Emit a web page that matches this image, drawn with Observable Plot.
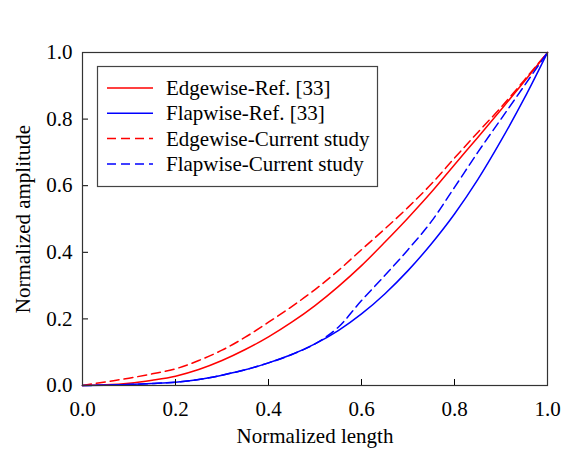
<!DOCTYPE html>
<html>
<head>
<meta charset="utf-8">
<script src="https://cdn.jsdelivr.net/npm/d3@7"></script>
<script src="https://cdn.jsdelivr.net/npm/@observablehq/plot@0.6"></script>
<style>
  html, body { margin: 0; padding: 0; background: #fff; }
  #wrap { position: relative; width: 567px; height: 457px; }
  #legend { position: absolute; left: 0; top: 0; pointer-events: none; }
</style>
</head>
<body>
<div id="wrap"></div>
<script>
// ---- data ----
const xs = [0, 0.05, 0.1, 0.15, 0.2, 0.25, 0.3, 0.35, 0.4, 0.45, 0.5, 0.55, 0.6, 0.65, 0.7, 0.75, 0.8, 0.85, 0.9, 0.95, 1];
const edgeRef   = [0, 0.002, 0.007, 0.016, 0.028, 0.048, 0.075, 0.108, 0.146, 0.19, 0.24, 0.297, 0.36, 0.43, 0.503, 0.58, 0.663, 0.745, 0.828, 0.913, 1];
const flapRef   = [0, 0.001, 0.003, 0.006, 0.010, 0.018, 0.031, 0.047, 0.068, 0.093, 0.125, 0.165, 0.215, 0.275, 0.345, 0.425, 0.515, 0.618, 0.735, 0.862, 1];
const edgeCur   = [0, 0.011, 0.022, 0.035, 0.05, 0.075, 0.106, 0.145, 0.19, 0.237, 0.288, 0.345, 0.408, 0.47, 0.535, 0.605, 0.683, 0.76, 0.835, 0.917, 1];
const flapCur   = [0, 0.001, 0.003, 0.006, 0.010, 0.018, 0.031, 0.047, 0.068, 0.093, 0.125, 0.175, 0.255, 0.33, 0.408, 0.492, 0.595, 0.7, 0.8, 0.9, 1];

const seriesNames = ["Edgewise-Ref. [33]", "Flapwise-Ref. [33]", "Edgewise-Current study", "Flapwise-Current study"];
const seriesValues = [edgeRef, flapRef, edgeCur, flapCur];
const seriesColors = ["#ff0000", "#0000ff", "#ff0000", "#0000ff"];
const seriesDash = [null, null, "9,5", "9,5"];

const xTicks = [0, 0.2, 0.4, 0.6, 0.8, 1.0];
const yTicks = [0, 0.2, 0.4, 0.6, 0.8, 1.0];
const xTitle = "Normalized length";
const yTitle = "Normalized amplitude";

const font = "'Liberation Serif', 'Times New Roman', serif";
const fs = 21;

const lineMarks = seriesValues.map((vals, k) =>
  Plot.line(xs.map((x, i) => ({x, y: vals[i]})), {
    x: "x", y: "y", stroke: seriesColors[k], strokeWidth: 1.5,
    strokeDasharray: seriesDash[k] ?? undefined, curve: "monotone-x"
  })
);

const chart = Plot.plot({
  width: 567,
  height: 457,
  marginTop: 52,
  marginRight: 20,
  marginBottom: 72,
  marginLeft: 82,
  style: {fontFamily: font, fontSize: fs + "px", background: "transparent", color: "#000"},
  x: {domain: [0, 1]},
  y: {domain: [0, 1]},
  marks: [
    ...lineMarks,
    Plot.axisX({ticks: xTicks, tickFormat: d3.format(".1f"), tickSize: -6, tickPadding: 22, label: null, fontSize: fs}),
    Plot.axisY({ticks: yTicks, tickFormat: d3.format(".1f"), tickSize: -6, tickPadding: 16, label: null, fontSize: fs}),
    Plot.frame({stroke: "#333", strokeWidth: 1.2}),
    Plot.text([xTitle], {frameAnchor: "bottom", textAnchor: "middle", dy: 57, text: d => d, fontSize: fs, fill: "#000"}),
    Plot.text([yTitle], {frameAnchor: "left", textAnchor: "middle", rotate: -90, dx: -59, dy: 0, text: d => d, fontSize: fs, fill: "#000"})
  ]
});

const wrap = document.getElementById("wrap");
wrap.appendChild(chart);

// ---- legend (inside plot area) ----
const lg = d3.create("svg").attr("id", "legend").attr("width", 567).attr("height", 457);
const box = {x: 97, y: 66, w: 280, h: 120};
lg.append("rect").attr("x", box.x + 0.5).attr("y", box.y + 0.5).attr("width", box.w).attr("height", box.h)
  .attr("fill", "#fff").attr("stroke", "#444").attr("stroke-width", 1.2);
seriesNames.forEach((name, k) => {
  const cy = box.y + 22 + k * 25.3;
  lg.append("line").attr("x1", box.x + 10).attr("x2", box.x + 56).attr("y1", cy).attr("y2", cy)
    .attr("stroke", seriesColors[k]).attr("stroke-width", 1.5)
    .attr("stroke-dasharray", seriesDash[k]);
  lg.append("text").attr("x", box.x + 69).attr("y", cy).attr("dy", "0.33em")
    .attr("font-family", font).attr("font-size", fs).attr("fill", "#000").text(name);
});
wrap.appendChild(lg.node());
</script>
</body>
</html>
